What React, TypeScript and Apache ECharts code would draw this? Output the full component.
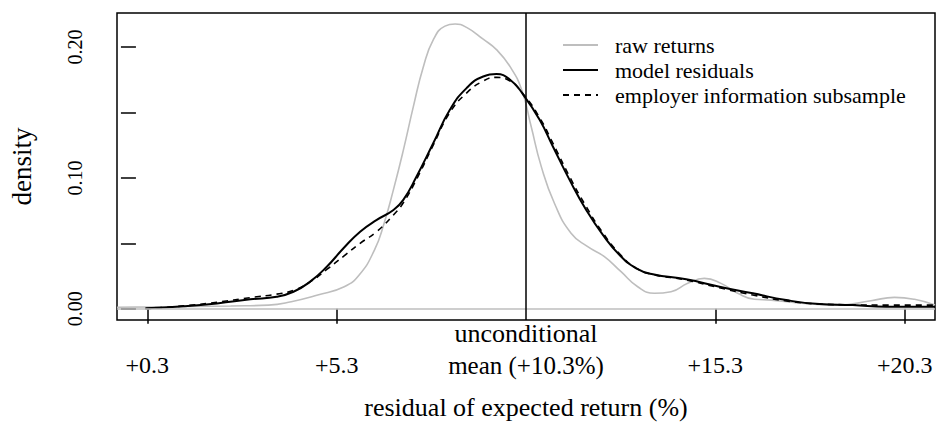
import React, { useEffect, useRef } from "react";
import * as echarts from "echarts";

// raw returns (gray)
const rawX = [-0.5, 0.5, 1.5, 2.5, 3.5, 4.1, 4.8, 5.5, 5.9, 6.3, 6.55, 6.8, 7.06, 7.33, 7.59, 7.86, 8.16, 8.43, 8.73, 9.17, 9.52, 9.88, 10.19, 10.43, 10.7, 11.05, 11.49, 11.93, 12.37, 12.81, 13.25, 13.69, 14.13, 14.57, 15.01, 15.45, 15.89, 16.33, 16.77, 17.65, 18.53, 19.41, 20.03, 20.56, 21.1];
const rawY = [0.0012, 0.0014, 0.0017, 0.0021, 0.0028, 0.0054, 0.0105, 0.0168, 0.026, 0.045, 0.065, 0.091, 0.121, 0.155, 0.185, 0.206, 0.216, 0.2176, 0.215, 0.206, 0.198, 0.185, 0.167, 0.14, 0.109, 0.0806, 0.0577, 0.0474, 0.0398, 0.0283, 0.0168, 0.0118, 0.013, 0.0194, 0.0232, 0.0194, 0.0118, 0.0072, 0.0066, 0.0041, 0.0028, 0.0061, 0.0087, 0.0072, 0.0028];

// model residuals (solid black)
const modelX = [0.25, 1.26, 2.14, 3.02, 3.72, 4.16, 4.6, 5.04, 5.48, 5.92, 6.36, 6.8, 7.06, 7.41, 7.85, 8.29, 8.73, 9.17, 9.52, 9.88, 10.23, 10.66, 11.01, 11.45, 11.89, 12.33, 12.77, 13.21, 13.65, 14.53, 15.41, 16.29, 17.17, 18.05, 18.93, 19.81, 21.1];
const modelY = [0.0003, 0.0019, 0.0041, 0.0072, 0.0092, 0.013, 0.0207, 0.0321, 0.0462, 0.0589, 0.0679, 0.0755, 0.0832, 0.101, 0.1265, 0.152, 0.1686, 0.1775, 0.1793, 0.175, 0.1635, 0.1444, 0.124, 0.0985, 0.0755, 0.0564, 0.0411, 0.0309, 0.0263, 0.0225, 0.0168, 0.0118, 0.0066, 0.0036, 0.0028, 0.0015, 0.0015];

// employer information subsample (dashed)
const empX = [0.25, 1.26, 2.14, 3.02, 3.72, 4.16, 4.6, 5.04, 5.48, 5.92, 6.36, 6.8, 7.06, 7.41, 7.85, 8.29, 8.73, 9.17, 9.52, 9.88, 10.23, 10.66, 11.01, 11.45, 11.89, 12.33, 12.77, 13.21, 13.65, 14.53, 15.41, 16.29, 17.17, 18.05, 18.93, 19.81, 21.1];
const empY = [0.0, 0.0022, 0.005, 0.0085, 0.0112, 0.014, 0.0205, 0.03, 0.04, 0.05, 0.059, 0.0717, 0.081, 0.099, 0.125, 0.15, 0.1648, 0.174, 0.1768, 0.174, 0.164, 0.146, 0.1265, 0.101, 0.078, 0.058, 0.042, 0.031, 0.0262, 0.022, 0.016, 0.0105, 0.006, 0.0036, 0.003, 0.0028, 0.0028];

const seriesNames = ["raw returns", "model residuals", "employer information subsample"];
const xTickValues = [0.3, 5.3, 15.3, 20.3];
const xLabelValues = [0.3, 5.3, 10.3, 15.3, 20.3];
const yTickValues = [0, 0.05, 0.1, 0.15, 0.2];
const yLabelValues = [0, 0.1, 0.2];
const meanValue = 10.3;
const xTitle = "residual of expected return (%)";
const yTitle = "density";

const zip = (xs: number[], ys: number[]) => xs.map((x, i) => [x, ys[i]]);

export default function App() {
  const ref = useRef<HTMLDivElement>(null);
  useEffect(() => {
    const chart = echarts.init(ref.current!, null, { renderer: "svg" });
    const font = "'Liberation Serif', 'Times New Roman', serif";
    chart.setOption({
      animation: false,
      textStyle: { fontFamily: font, color: "#000" },
      grid: {
        left: 117,
        top: 13,
        right: 1,
        bottom: 114,
        show: true,
        borderColor: "#000",
        borderWidth: 1.5,
        backgroundColor: "transparent",
        containLabel: false,
        outerBoundsMode: "none",
      },
      legend: {
        orient: "vertical",
        left: 562,
        top: 34,
        padding: 0,
        itemWidth: 35,
        itemHeight: 14,
        itemGap: 3,
        selectedMode: false,
        itemStyle: { opacity: 0, borderWidth: 0 },
        textStyle: { fontFamily: font, fontSize: 22, color: "#000", lineHeight: 20, padding: [0, 0, 0, 12] },
        data: seriesNames,
      },
      xAxis: {
        type: "value",
        min: -0.5,
        max: 21.1,
        splitLine: { show: false },
        axisLine: { show: false },
        axisTick: {
          show: true,
          length: 15,
          inside: false,
          customValues: xTickValues,
          lineStyle: { color: "#000", width: 1.5 },
        },
        axisLabel: {
          customValues: xLabelValues,
          formatter: (v: number) =>
            Math.abs(v - meanValue) < 1e-6
              ? "{u|unconditional}\n{m|mean (+10.3%)}"
              : "+" + v.toFixed(1),
          margin: 61,
          verticalAlign: "bottom",
          align: "center",
          fontSize: 24,
          lineHeight: 32,
          color: "#000",
          fontFamily: font,
          rich: {
            u: { fontSize: 26, lineHeight: 32, fontFamily: font, color: "#000" },
            m: { fontSize: 25, lineHeight: 32, fontFamily: font, color: "#000" },
          },
        },
        name: xTitle,
        nameLocation: "middle",
        nameGap: 87,
        nameTextStyle: { fontSize: 26, fontFamily: font, color: "#000", verticalAlign: "middle", align: "center" },
      },
      yAxis: {
        type: "value",
        min: -0.0086,
        max: 0.226,
        splitLine: { show: false },
        axisLine: { show: false },
        axisTick: {
          show: true,
          length: 15,
          inside: false,
          customValues: yTickValues,
          lineStyle: { color: "#000", width: 1.5 },
        },
        axisLabel: {
          customValues: yLabelValues,
          formatter: (v: number) => v.toFixed(2),
          rotate: 90,
          margin: 42,
          align: "center",
          verticalAlign: "middle",
          fontSize: 20,
          color: "#000",
          fontFamily: font,
        },
        name: yTitle,
        nameLocation: "middle",
        nameRotate: 90,
        nameGap: 95,
        nameTextStyle: { fontSize: 27, fontFamily: font, color: "#000", verticalAlign: "middle", align: "center" },
      },
      series: [
        {
          name: seriesNames[0],
          type: "line",
          data: zip(rawX, rawY),
          symbol: "none",
          smooth: 0.5,
          clip: true,
          lineStyle: { color: "#bebebe", width: 1.6, type: "solid" },
          itemStyle: { color: "#bebebe" },
          markLine: {
            silent: true,
            symbol: "none",
            label: { show: false },
            lineStyle: { color: "#bebebe", width: 1.5, type: "solid" },
            data: [{ yAxis: 0 }],
          },
          z: 2,
        },
        {
          name: seriesNames[1],
          type: "line",
          data: zip(modelX, modelY),
          symbol: "none",
          smooth: 0.5,
          clip: true,
          lineStyle: { color: "#000", width: 2, type: "solid" },
          itemStyle: { color: "#000" },
          markLine: {
            silent: true,
            symbol: "none",
            label: { show: false },
            lineStyle: { color: "#000", width: 1.5, type: "solid" },
            data: [{ xAxis: meanValue }],
          },
          z: 3,
        },
        {
          name: seriesNames[2],
          type: "line",
          data: zip(empX, empY),
          symbol: "none",
          smooth: 0.5,
          clip: true,
          lineStyle: { color: "#000", width: 1.6, type: [6, 5] },
          itemStyle: { color: "#000" },
          z: 4,
        },
      ],
    });
    return () => chart.dispose();
  }, []);
  return (
    <div
      ref={ref}
      style={{ position: "fixed", left: 0, top: 0, width: 936, height: 434, background: "#fff" }}
    />
  );
}
